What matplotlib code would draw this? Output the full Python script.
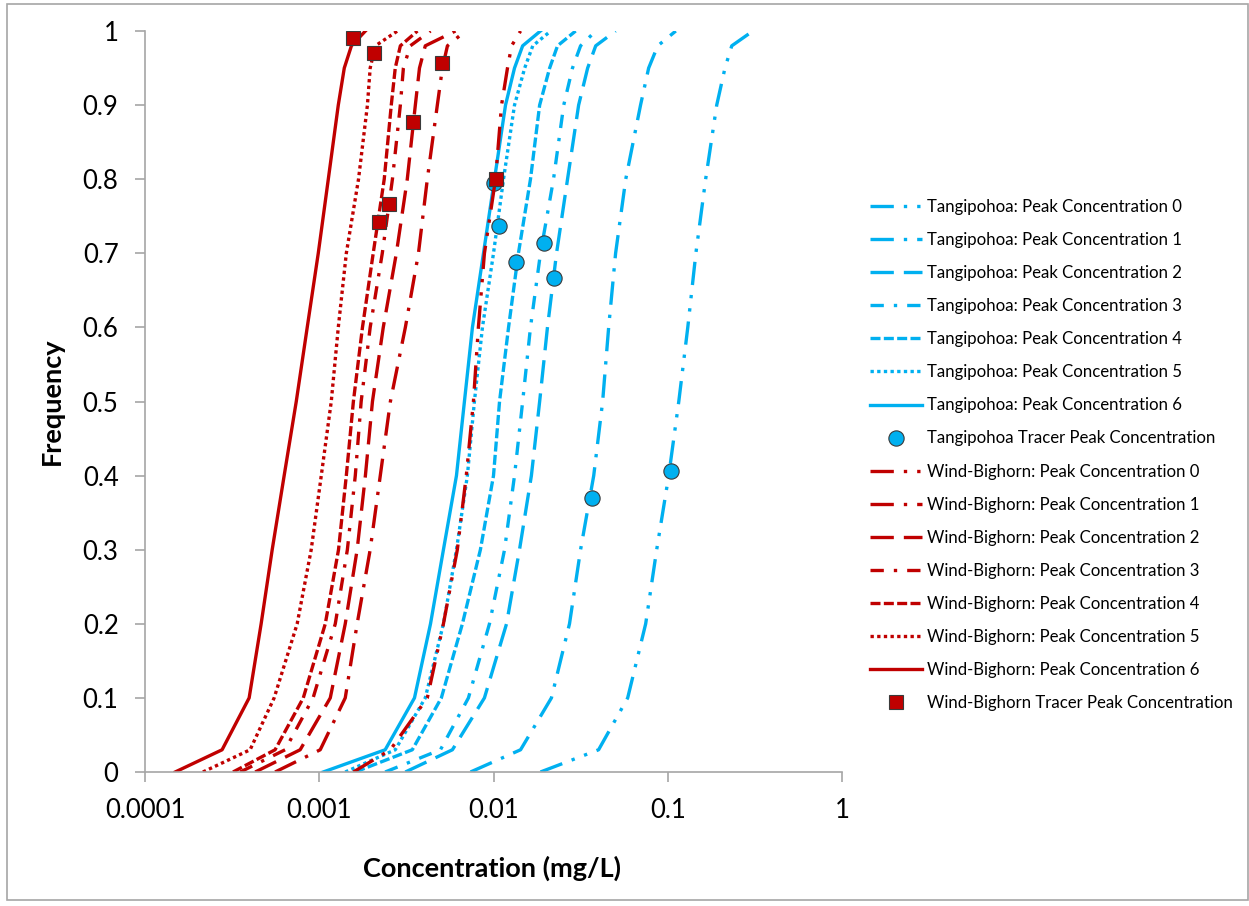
import matplotlib
matplotlib.use('Agg')
import numpy as np
import matplotlib.pyplot as plt
from matplotlib.patches import Rectangle
from matplotlib.ticker import NullLocator

plt.rcParams['font.family'] = ['Lato', 'DejaVu Sans']

# cumulative frequency levels shared by every curve
freq = [0, 0.03, 0.1, 0.2, 0.3, 0.4, 0.5, 0.6, 0.7, 0.8, 0.9, 0.95, 0.98, 1.0]

# Tangipohoa peak concentration curves (mg/L)
tang0 = [0.0186, 0.0401, 0.0589, 0.0747, 0.0864, 0.1013, 0.1157, 0.1303, 0.145, 0.165, 0.191, 0.213, 0.233, 0.308]
tang1 = [0.00738, 0.0143, 0.0215, 0.0273, 0.0316, 0.0376, 0.0423, 0.0458, 0.0502, 0.0574, 0.0698, 0.0777, 0.0876, 0.1112]
tang2 = [0.00312, 0.00581, 0.00887, 0.01188, 0.0141, 0.0165, 0.0184, 0.0204, 0.0230, 0.0266, 0.0308, 0.0347, 0.0386, 0.0502]
tang3 = [0.00239, 0.00496, 0.00718, 0.00948, 0.01157, 0.0132, 0.0147, 0.0163, 0.0186, 0.0221, 0.0253, 0.0284, 0.0316, 0.0386]
tang4 = [0.00161, 0.00342, 0.00502, 0.00663, 0.00841, 0.0100, 0.01083, 0.0122, 0.0139, 0.0163, 0.0184, 0.0210, 0.0233, 0.0296]
tang5 = [0.00141, 0.00273, 0.00406, 0.00516, 0.00613, 0.00708, 0.00777, 0.00864, 0.0100, 0.01141, 0.0132, 0.0151, 0.0168, 0.0213]
tang6 = [0.001054, 0.00239, 0.00352, 0.00435, 0.00516, 0.00613, 0.00681, 0.00757, 0.00876, 0.01013, 0.01172, 0.0132, 0.0147, 0.0186]

# Wind-Bighorn peak concentration curves (mg/L)
wb0 = [0.00157, 0.00256, 0.00417, 0.00516, 0.00620, 0.00698, 0.00767, 0.00819, 0.00887, 0.01027, 0.01112, 0.01203, 0.0127, 0.0143]
wb1 = [0.000558, 0.001013, 0.00141, 0.00165, 0.00196, 0.00224, 0.00256, 0.00312, 0.00371, 0.00417, 0.00476, 0.00509, 0.00544, 0.0069]
wb2 = [0.000429, 0.000777, 0.001157, 0.00141, 0.00165, 0.00184, 0.00202, 0.00233, 0.00277, 0.0032, 0.00356, 0.00376, 0.00406, 0.00605]
wb3 = [0.000352, 0.000637, 0.000922, 0.001236, 0.00145, 0.00161, 0.00174, 0.00196, 0.0023, 0.00263, 0.00292, 0.00304, 0.00333, 0.00435]
wb4 = [0.00032, 0.000558, 0.00081, 0.001083, 0.00129, 0.00143, 0.00157, 0.00177, 0.00204, 0.00236, 0.00259, 0.00273, 0.00292, 0.00366]
wb5 = [0.000215, 0.000401, 0.000551, 0.000747, 0.000899, 0.001027, 0.001172, 0.001286, 0.00143, 0.00168, 0.00189, 0.00196, 0.0021, 0.00281]
wb6 = [0.000149, 0.000277, 0.000396, 0.000464, 0.000537, 0.000629, 0.000738, 0.000853, 0.000987, 0.001127, 0.001286, 0.001392, 0.00153, 0.00184]

# tracer peak concentrations
tang_tracer_x = [0.0100, 0.0108, 0.01355, 0.0194, 0.0221, 0.0366, 0.104]
tang_tracer_y = [0.795, 0.737, 0.688, 0.714, 0.667, 0.37, 0.406]
wb_tracer_x = [0.00157, 0.00207, 0.00221, 0.0025, 0.00347, 0.00509, 0.0104]
wb_tracer_y = [0.99, 0.97, 0.742, 0.767, 0.877, 0.957, 0.80]

x_ticks = [0.0001, 0.001, 0.01, 0.1, 1]
x_tick_labels = ['0.0001', '0.001', '0.01', '0.1', '1']
y_ticks = [0, 0.1, 0.2, 0.3, 0.4, 0.5, 0.6, 0.7, 0.8, 0.9, 1.0]
y_tick_labels = ['0', '0.1', '0.2', '0.3', '0.4', '0.5', '0.6', '0.7', '0.8', '0.9', '1']

blue = '#00B0F0'
red = '#C00000'
grey = '#A6A6A6'
# Excel style dash patterns, index = peak concentration number
styles = [(0, (7, 3, 1, 3, 1, 3)), (0, (7, 3, 1, 3)), (0, (7, 3)), (0, (4, 3, 1, 3)),
          (0, (3, 1)), (0, (1, 1)), '-']

fig = plt.figure(figsize=(12.49, 9.06), dpi=100)
ax = fig.add_axes([145/1249, 1-772/906, 697/1249, 741/906])

handles = []
labels = []
for i, c in enumerate([tang0, tang1, tang2, tang3, tang4, tang5, tang6]):
    h, = ax.plot(c, freq, color=blue, lw=2.4, linestyle=styles[i])
    handles.append(h)
    labels.append('Tangipohoa: Peak Concentration %d' % i)
h, = ax.plot(tang_tracer_x, tang_tracer_y, 'o', ms=11, mfc=blue, mec='#3a3a3a', mew=0.8)
handles.append(h)
labels.append('Tangipohoa Tracer Peak Concentration')

for i, c in enumerate([wb0, wb1, wb2, wb3, wb4, wb5, wb6]):
    h, = ax.plot(c, freq, color=red, lw=2.4, linestyle=styles[i])
    handles.append(h)
    labels.append('Wind-Bighorn: Peak Concentration %d' % i)
h, = ax.plot(wb_tracer_x, wb_tracer_y, 's', ms=10, mfc=red, mec='#3a3a3a', mew=0.8)
handles.append(h)
labels.append('Wind-Bighorn Tracer Peak Concentration')

ax.set_xscale('log')
ax.set_xlim(0.0001, 1)
ax.set_ylim(0, 1)
ax.set_xticks(x_ticks)
ax.set_xticklabels(x_tick_labels)
ax.xaxis.set_minor_locator(NullLocator())
ax.set_yticks(y_ticks)
ax.set_yticklabels(y_tick_labels)
for s in ['top', 'right']:
    ax.spines[s].set_visible(False)
for s in ['left', 'bottom']:
    ax.spines[s].set_color(grey)
    ax.spines[s].set_linewidth(1.2)
ax.tick_params(direction='out', length=7, width=1.2, color=grey, labelsize=18.5, labelcolor='black')
ax.tick_params(axis='y', pad=12)
ax.tick_params(axis='x', pad=12)

ax.text(0.498, -0.1296, 'Concentration (mg/L)', transform=ax.transAxes, ha='center', va='center',
        fontsize=19.5, fontweight='bold')
ax.text(-0.1334, 0.5, 'Frequency', transform=ax.transAxes, ha='center', va='center',
        rotation=90, fontsize=19.5, fontweight='bold')

fig.legend(handles, labels, loc='center left', bbox_to_anchor=(870/1249, 1-455/906),
           frameon=False, fontsize=12.1, handlelength=3.1, handletextpad=0.3,
           labelspacing=1.015, borderpad=0, borderaxespad=0)

fig.patches.append(Rectangle((7/1249, 1-900/906), 1241/1249, 896/906, transform=fig.transFigure,
                             fill=False, edgecolor=grey, lw=1.2))

fig.savefig('out.png', dpi=100)
